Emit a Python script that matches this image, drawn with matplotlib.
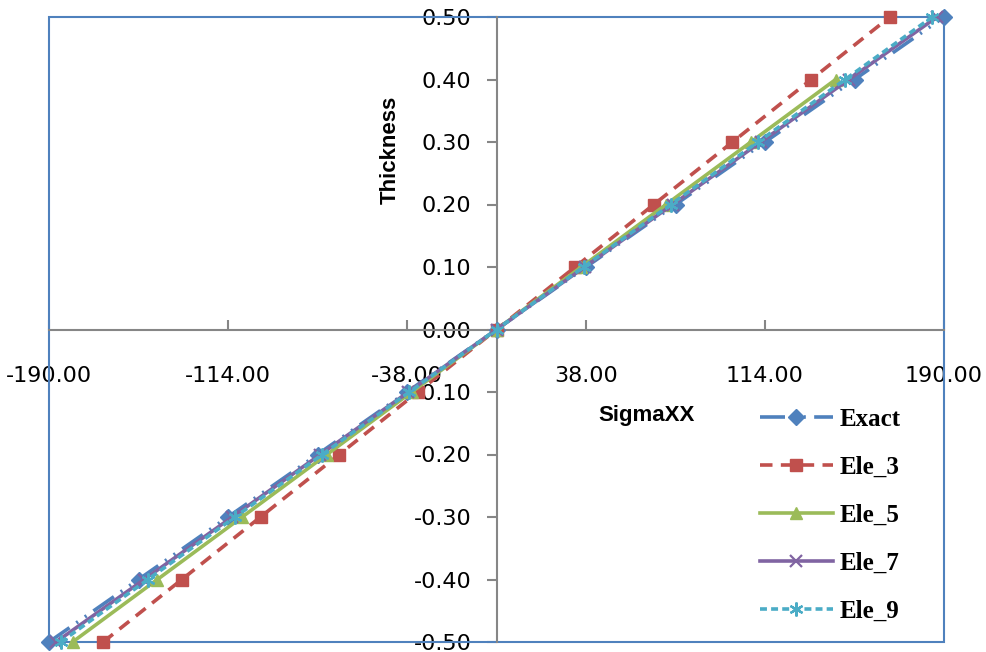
import numpy as np
import matplotlib
matplotlib.use('Agg')
import matplotlib.pyplot as plt
from matplotlib.patches import Rectangle

plt.rcParams['font.family'] = 'DejaVu Sans'
plt.rcParams['lines.scale_dashes'] = False

# 데이터
thickness = [-0.5, -0.4, -0.3, -0.2, -0.1, 0.0, 0.1, 0.2, 0.3, 0.4, 0.5]
exact = [-190, -152, -114, -76, -38, 0, 38, 76, 114, 152, 190]
ele_3 = [-167, -133.6, -100.2, -66.8, -33.4, 0, 33.4, 66.8, 100.2, 133.6, 167]
ele_5 = [-180, -144, -108, -72, -36, 0, 36, 72, 108, 144, np.nan]
ele_7 = [-187, -149.6, -112.2, -74.8, -37.4, 0, 37.4, 74.8, 112.2, 149.6, 187]
ele_9 = [-185, -148, -111, -74, -37, 0, 37, 74, 111, 148, 185]

x_ticks = [-190, -114, -38, 38, 114, 190]
y_ticks = [-0.5, -0.4, -0.3, -0.2, -0.1, 0.0, 0.1, 0.2, 0.3, 0.4, 0.5]

fig = plt.figure(figsize=(9.86, 6.52), dpi=100)
ax = fig.add_axes([49/986, 10/652, 895/986, 625/652])

# 시리즈
ax.plot(exact, thickness, color='#4F81BD', lw=2.6, marker='D', ms=8,
        dashes=(18, 6, 1.5, 6, 1.5, 6), label='Exact', clip_on=False, zorder=3)
ax.plot(ele_3, thickness, color='#C0504D', lw=2.6, marker='s', ms=9,
        dashes=(9, 6), label='Ele_3', clip_on=False, zorder=4)
ax.plot(ele_5, thickness, color='#9BBB59', lw=2.6, marker='^', ms=9,
        label='Ele_5', clip_on=False, zorder=5)
ax.plot(ele_7, thickness, color='#8064A2', lw=2.6, marker='x', ms=8, mew=1.6,
        label='Ele_7', clip_on=False, zorder=6)
ax.plot(ele_9, thickness, color='#4BACC6', lw=2.6, marker=(6, 2, 0), ms=10, mew=1.6,
        dashes=(5, 3), label='Ele_9', clip_on=False, zorder=7)

ax.set_xlim(-190, 190)
ax.set_ylim(-0.5, 0.5)

# 축은 원점에서 교차
for side in ['right', 'top']:
    ax.spines[side].set_visible(False)
ax.spines['left'].set_position(('data', 0))
ax.spines['bottom'].set_position(('data', 0))
for side in ['left', 'bottom']:
    ax.spines[side].set_color('#868686')
    ax.spines[side].set_linewidth(1.5)

ax.add_patch(Rectangle((0, 0), 1, 1, transform=ax.transAxes, fill=False,
                       ec='#4F81BD', lw=1.5, clip_on=False, zorder=2))

ax.set_xticks(x_ticks)
ax.set_xticklabels(['%.2f' % v for v in x_ticks])
ax.set_yticks(y_ticks)
ax.set_yticklabels(['%.2f' % v for v in y_ticks])
ax.tick_params(axis='x', direction='in', length=7, width=1.5, color='#868686',
               pad=26, labelsize=16)
ax.tick_params(axis='y', direction='out', length=7, width=1.5, color='#868686',
               pad=11, labelsize=16)

fig.text(390/986, 1 - 150/652, 'Thickness', rotation=90, fontsize=16,
         fontweight='bold', family='Liberation Sans', ha='center', va='center')
fig.text(647/986, 1 - 415/652, 'SigmaXX', fontsize=16, fontweight='bold',
         family='Liberation Sans', ha='center', va='center')

ax.legend(loc='center left', bbox_to_anchor=(760/986, 1 - 515/652),
          bbox_transform=fig.transFigure, frameon=False, borderpad=0,
          borderaxespad=0, handlelength=2.9, handletextpad=0.3,
          labelspacing=1.0, prop={'family': 'Liberation Serif',
                                  'weight': 'bold', 'size': 18})

fig.savefig('out.png', dpi=100)
